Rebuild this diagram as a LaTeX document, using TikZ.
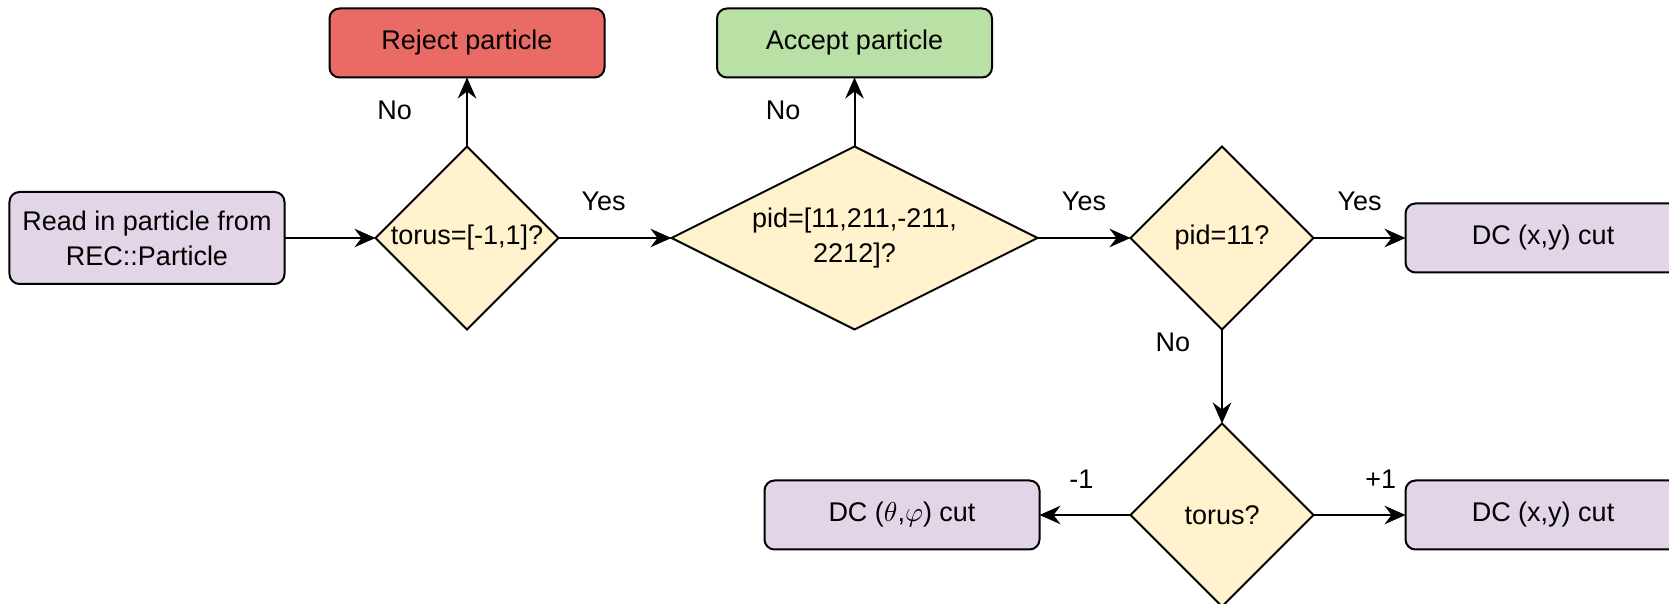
\documentclass[tikz,border=0pt]{standalone}
\usepackage{fontspec}
\setmainfont{Liberation Sans}
\usetikzlibrary{positioning,arrows.meta,shapes.geometric}
\definecolor{boxpurple}{HTML}{E1D5E7}
\definecolor{decyellow}{HTML}{FFF2CC}
\definecolor{rejectred}{HTML}{EA6B66}
\definecolor{acceptgreen}{HTML}{B9E0A5}
\tikzset{
  >={Stealth[length=8.4pt,width=7.4pt,inset=2.8pt]},
  my box/.style={
    draw,
    rectangle,
    rounded corners=4pt,
    fill=boxpurple,
    outer sep=0pt,
    minimum width=110pt,
    minimum height=27.6pt,
    align=center
  },
  my decision/.style={
    draw,
    diamond,
    aspect=1,
    fill=decyellow,
    inner sep=0pt,
    outer sep=0pt,
    minimum width=73.2pt,
    minimum height=73.2pt,
    align=center
  },
  my wide decision/.style={
    my decision,
    aspect=2,
    minimum width=146.4pt
  },
  my label/.style={inner sep=0pt},
  my flowchart/.style={
    x=0.4pt,
    y=-0.4pt,
    line width=0.8pt,
    font=\fontsize{10.8}{14}\selectfont
  }
}

\begin{document}
\begin{tikzpicture}[my flowchart]
\useasboundingbox (0,0) rectangle (1669,604);
\node[my box,minimum height=36.8pt]      (read)   at (147,238) {Read in particle from\\REC::Particle};
\node[my decision,right=36.4pt of read]   (torus)  {torus=[-1,1]?};
\node[my box,fill=rejectred,above=27.6pt of torus] (reject) {Reject particle};
\node[my wide decision,right=45.2pt of torus] (pid) {pid=[11,211,-211,\\2212]?};
\node[my box,fill=acceptgreen,above=27.6pt of pid] (accept) {Accept particle};
\node[my decision,right=37.2pt of pid]    (elec)   {pid=11?};
\node[my box,right=36.8pt of elec]        (cutxy)  {DC (x,y) cut};
\node[my decision,below=37.6pt of elec]   (sign)   {torus?};
\node[my box,right=36.8pt of sign]        (cutxyb) {DC (x,y) cut};
\node[my box,left=36.4pt of sign]         (cutang) {DC ($\theta$,$\varphi$) cut};
\path[->] (read)  edge                                            (torus)
          (torus) edge node[my label,pos=0.52,left=21.6pt]  {No}  (reject)
          (torus) edge node[my label,pos=0.4,above=10.4pt]  {Yes} (pid)
          (pid)   edge node[my label,pos=0.52,left=21.2pt]  {No}  (accept)
          (pid)   edge node[my label,pos=0.5,above=10.4pt]  {Yes} (elec)
          (elec)  edge node[my label,pos=0.5,above=10.4pt]  {Yes} (cutxy)
          (elec)  edge node[my label,pos=0.14,left=12.4pt]  {No}  (sign)
          (sign)  edge node[my label,pos=0.54,above=10pt]   {-1}  (cutang)
          (sign)  edge node[my label,pos=0.73,above=10pt]   {+1}  (cutxyb);
\end{tikzpicture}
\end{document}
